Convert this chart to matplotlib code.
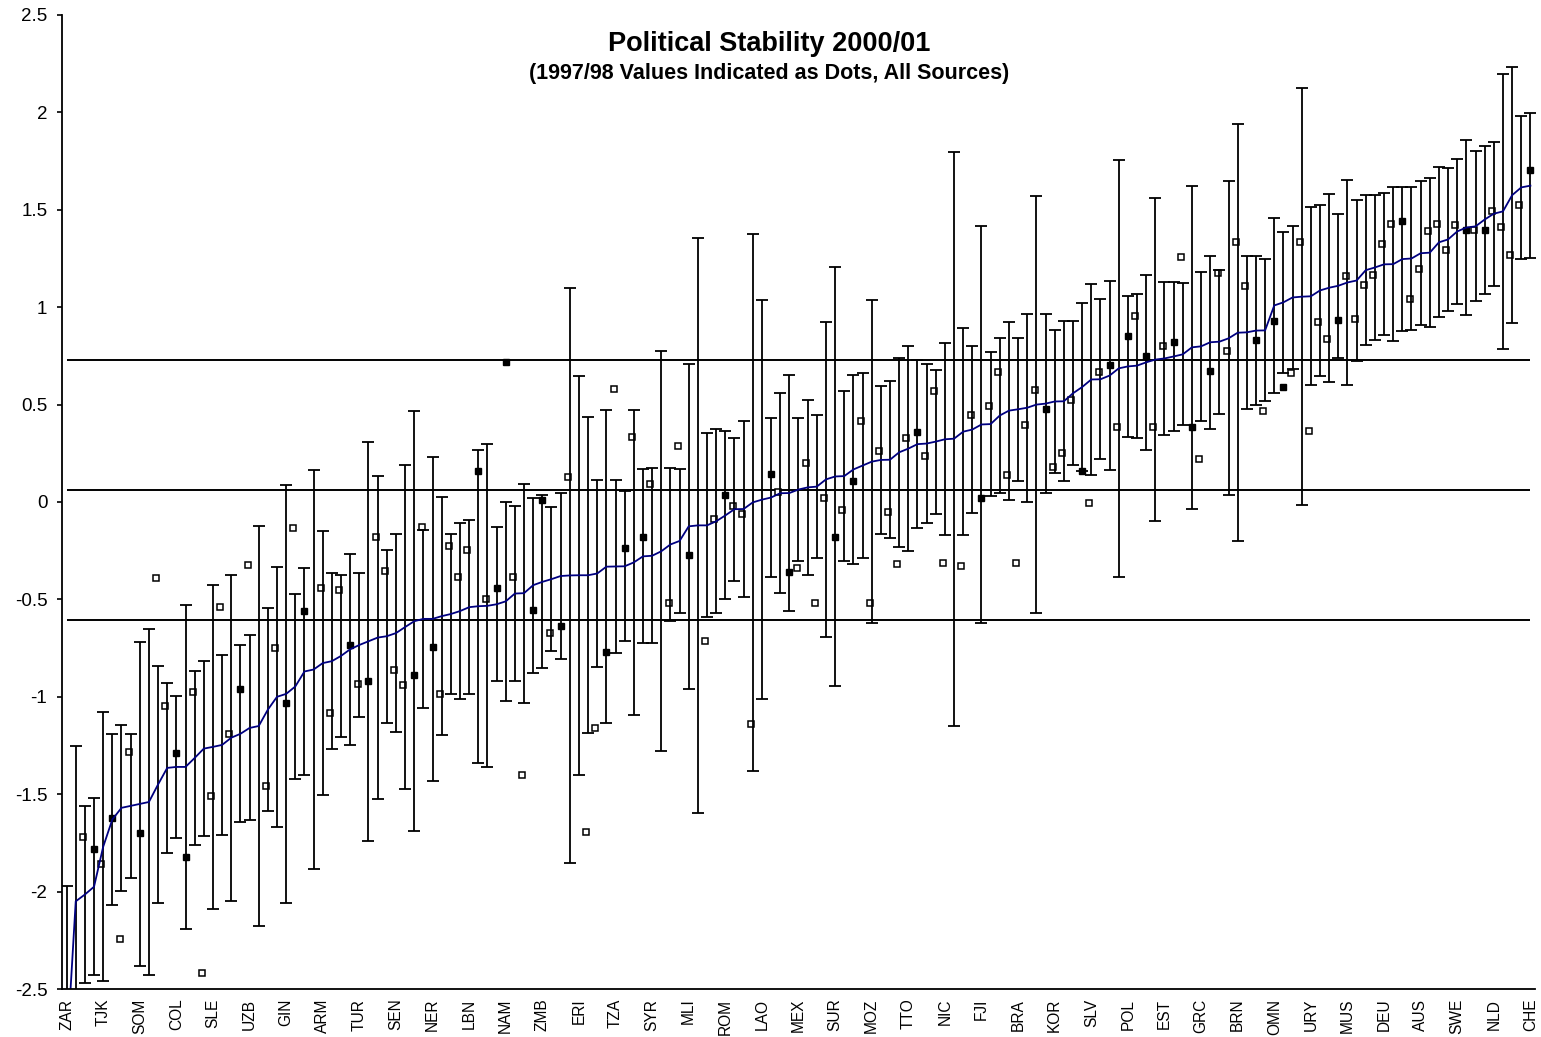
import numpy as np
import matplotlib
matplotlib.use("Agg")
import matplotlib.pyplot as plt

plt.rcParams['font.family'] = ['Liberation Sans', 'DejaVu Sans']
plt.rcParams['axes.unicode_minus'] = False

title = "Political Stability 2000/01"
subtitle = "(1997/98 Values Indicated as Dots, All Sources)"

tick_labels = ['ZAR', 'TJK', 'SOM', 'COL', 'SLE', 'UZB', 'GIN', 'ARM', 'TUR', 'SEN',
               'NER', 'LBN', 'NAM', 'ZMB', 'ERI', 'TZA', 'SYR', 'MLI', 'ROM', 'LAO',
               'MEX', 'SUR', 'MOZ', 'TTO', 'NIC', 'FJI', 'BRA', 'KOR', 'SLV', 'POL',
               'EST', 'GRC', 'BRN', 'OMN', 'URY', 'MUS', 'DEU', 'AUS', 'SWE', 'NLD', 'CHE']

# 2000/01 point estimates (sorted ascending)
estimate = [
    -2.85, -2.05, -2.015, -1.975, -1.77, -1.63, -1.57, -1.56, -1.55, -1.54,
    -1.45, -1.365, -1.36, -1.36, -1.314, -1.266, -1.257, -1.247, -1.21, -1.19,
    -1.16, -1.15, -1.066, -1.0, -0.985, -0.947, -0.87, -0.86, -0.827, -0.817,
    -0.79, -0.756, -0.734, -0.715, -0.696, -0.689, -0.673, -0.642, -0.612, -0.60,
    -0.60, -0.586, -0.575, -0.56, -0.54, -0.535, -0.533, -0.525, -0.51, -0.47,
    -0.468, -0.427, -0.41, -0.396, -0.38, -0.377, -0.376, -0.376, -0.367, -0.332,
    -0.331, -0.33, -0.31, -0.279, -0.276, -0.253, -0.218, -0.2, -0.125, -0.12,
    -0.12, -0.099, -0.069, -0.037, -0.036, -0.002, 0.012, 0.023, 0.045, 0.046,
    0.064, 0.075, 0.079, 0.116, 0.131, 0.133, 0.167, 0.187, 0.207, 0.216,
    0.217, 0.255, 0.274, 0.297, 0.30, 0.31, 0.322, 0.325, 0.361, 0.372,
    0.398, 0.40, 0.444, 0.469, 0.476, 0.484, 0.50, 0.505, 0.516, 0.517,
    0.558, 0.59, 0.629, 0.63, 0.649, 0.686, 0.696, 0.70, 0.717, 0.731,
    0.737, 0.747, 0.758, 0.794, 0.799, 0.82, 0.823, 0.84, 0.869, 0.871,
    0.88, 0.881, 1.009, 1.025, 1.05, 1.054, 1.056, 1.086, 1.10, 1.11,
    1.127, 1.137, 1.19, 1.204, 1.22, 1.221, 1.247, 1.25, 1.277, 1.28,
    1.333, 1.348, 1.389, 1.409, 1.415, 1.45, 1.48, 1.492, 1.575, 1.615,
    1.624]

# half-width of the confidence interval
margin = [
    0.88, 0.80, 0.455, 0.455, 0.69, 0.437, 0.425, 0.37, 0.83, 0.89,
    0.61, 0.435, 0.365, 0.83, 0.447, 0.45, 0.832, 0.463, 0.837, 0.454,
    0.475, 1.025, 0.52, 0.666, 1.074, 0.473, 0.53, 1.025, 0.677, 0.452,
    0.415, 0.49, 0.37, 1.025, 0.83, 0.445, 0.51, 0.83, 1.077, 0.455,
    0.83, 0.61, 0.413, 0.45, 0.448, 0.803, 0.829, 0.395, 0.511, 0.45,
    0.562, 0.45, 0.444, 0.37, 0.426, 1.478, 1.025, 0.81, 0.48, 0.804,
    0.445, 0.385, 0.784, 0.447, 0.45, 1.026, 0.392, 0.37, 0.834, 1.476,
    0.472, 0.472, 0.431, 0.367, 0.45, 1.378, 1.025, 0.41, 0.513, 0.605,
    0.369, 0.451, 0.366, 0.81, 1.073, 0.438, 0.484, 0.473, 0.83, 0.38,
    0.402, 0.486, 0.528, 0.432, 0.41, 0.37, 0.492, 1.474, 0.532, 0.43,
    1.021, 0.37, 0.40, 0.457, 0.368, 0.482, 1.072, 0.46, 0.369, 0.411,
    0.37, 0.432, 0.492, 0.41, 0.483, 1.072, 0.364, 0.37, 0.448, 0.83,
    0.394, 0.384, 0.364, 0.83, 0.384, 0.445, 0.37, 0.806, 1.07, 0.393,
    0.384, 0.365, 0.449, 0.362, 0.368, 1.07, 0.457, 0.437, 0.482, 0.369,
    0.528, 0.415, 0.385, 0.37, 0.364, 0.396, 0.37, 0.365, 0.37, 0.383,
    0.385, 0.369, 0.371, 0.45, 0.385, 0.38, 0.37, 0.706, 0.656, 0.368,
    0.372]

# 1997/98 values (None = not available)
value_9798 = [
    None, None, -1.72, -1.78, -1.86, -1.62, -2.245, -1.283, -1.70, None,
    -0.392, -1.046, -1.287, -1.82, -0.973, -2.418, -1.511, -0.538, -1.19, -0.958,
    -0.325, None, -1.46, -0.752, -1.03, -0.131, -0.56, None, -0.444, -1.082,
    -0.453, -0.735, -0.932, -0.92, -0.181, -0.352, -0.86, -0.94, -0.889, -0.13,
    -0.745, -0.988, -0.227, -0.386, -0.244, 0.157, -0.50, -0.444, 0.72, -0.386,
    -1.403, -0.552, 0.012, -0.675, -0.635, 0.127, None, -1.693, -1.16, -0.772,
    0.578, -0.236, 0.332, -0.182, 0.094, None, -0.521, 0.286, -0.273, None,
    -0.711, -0.089, 0.038, -0.02, -0.064, -1.142, None, 0.146, 0.049, -0.359,
    -0.34, 0.202, -0.516, 0.018, -0.181, -0.043, 0.108, 0.418, -0.52, 0.26,
    -0.053, -0.319, 0.331, 0.357, 0.236, 0.569, -0.313, None, -0.329, 0.445,
    0.022, 0.495, 0.666, 0.138, -0.313, 0.394, 0.577, 0.477, 0.178, 0.252,
    0.522, 0.161, -0.004, 0.666, 0.702, 0.385, 0.851, 0.953, 0.752, 0.384,
    0.803, 0.82, 1.256, 0.384, 0.221, 0.675, 1.176, 0.774, 1.333, 1.107,
    0.834, 0.466, 0.928, 0.59, 0.662, 1.333, 0.363, 0.922, 0.839, 0.933,
    1.158, 0.94, 1.112, 1.167, 1.326, 1.429, 1.44, 1.042, 1.198, 1.389,
    1.429, 1.295, 1.423, 1.395, 1.398, 1.398, 1.492, 1.41, 1.266, 1.526,
    1.706]

# dots that sit right on their error bar (render solid)
dot_on_bar = [3, 5, 8, 12, 13, 19, 24, 26, 31, 33, 38, 40, 45, 47, 48, 51, 52, 54,
              59, 61, 63, 68, 72, 77, 79, 84, 86, 93, 100, 107, 111, 114, 116, 118,
              121, 123, 125, 130, 132, 133, 139, 146, 153, 155, 160]

ref_lines = [0.73, 0.063, -0.605]

# ---------------------------------------------------------------
W, H = 1541, 1037
fig = plt.figure(figsize=(W / 100, H / 100), dpi=100)
ax = fig.add_axes([62 / W, 48 / H, 1473 / W, 974 / H])

n = len(estimate)
x = np.arange(n)
est = np.array(estimate, dtype=float)
mar = np.array(margin, dtype=float)
d = np.array([np.nan if v is None else v for v in value_9798], dtype=float)

for yv in ref_lines:
    ax.plot([0, n - 1], [yv, yv], color='black', lw=1.4, zorder=1,
            solid_capstyle='butt')

on = np.zeros(n, dtype=bool)
on[dot_on_bar] = True
mask_open = ~on & ~np.isnan(d)
mask_on = on & ~np.isnan(d)
ax.plot(x[mask_open] - 0.2, d[mask_open], linestyle='none', marker='s', ms=4.2,
        mfc='white', mec='black', mew=1.1, zorder=1.5)

ax.errorbar(x, est, yerr=mar, fmt='none', ecolor='black', elinewidth=1.3,
            capsize=4, capthick=1.3, zorder=2)

ax.plot(x[mask_on], d[mask_on], linestyle='none', marker='s', ms=4.6,
        mfc='black', mec='black', mew=1.0, zorder=3)

ax.plot(x, est, color='#000080', lw=1.3, zorder=4)

ax.set_xlim(-0.5, n - 0.5)
ax.set_ylim(-2.5, 2.5)

for s in ['top', 'right']:
    ax.spines[s].set_visible(False)
for s in ['left', 'bottom']:
    ax.spines[s].set_linewidth(1.3)
    ax.spines[s].set_zorder(5)

yt = np.arange(-2.5, 2.51, 0.5)
ax.set_yticks(yt)
ax.set_yticklabels(['%g' % v for v in yt])
ax.tick_params(axis='y', direction='out', length=3.6, width=1.2, pad=7,
               labelsize=13.5)

ax.set_xticks(np.arange(0, n, 4))
ax.set_xticklabels(tick_labels, rotation=90)
ax.tick_params(axis='x', length=0, pad=7, labelsize=11.2)
for lab in ax.get_xticklabels():
    lab.set_verticalalignment('top')
    lab.set_horizontalalignment('center')

fig.text(0.4994, 1 - 44 / H, title, ha='center', va='center',
         fontsize=19.5, fontweight='bold')
fig.text(0.4994, 1 - 74 / H, subtitle, ha='center', va='center',
         fontsize=15.5, fontweight='bold')

fig.savefig('out.png', dpi=100)
